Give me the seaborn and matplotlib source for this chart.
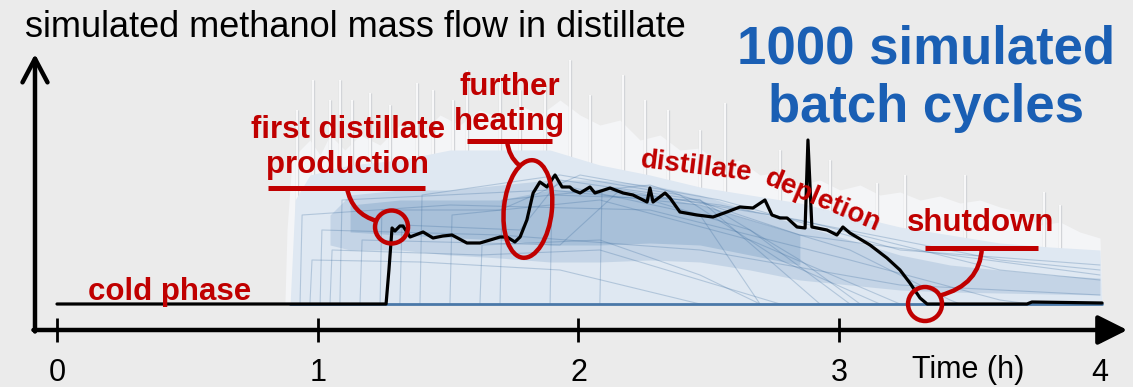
import matplotlib
matplotlib.use("Agg")
import numpy as np
import pandas as pd
import matplotlib.pyplot as plt
import seaborn as sns
from matplotlib.patches import Ellipse, PathPatch
from matplotlib.path import Path
from matplotlib import transforms

# ---------------- data ----------------
# representative batch cycle (black line): time in h, methanol mass flow (a.u.)
ref_time = [0, 1.262, 1.273, 1.285, 1.296, 1.315, 1.327, 1.354, 1.404, 1.442, 1.480, 1.515,
            1.572, 1.622, 1.661, 1.699, 1.726, 1.756, 1.776, 1.802, 1.826, 1.852, 1.879,
            1.910, 1.937, 1.967, 1.979, 2.006, 2.044, 2.063, 2.121, 2.171, 2.209, 2.263,
            2.274, 2.286, 2.332, 2.351, 2.389, 2.454, 2.516, 2.569, 2.619, 2.669, 2.715,
            2.742, 2.773, 2.800, 2.838, 2.869, 2.880, 2.895, 2.953, 2.991, 3.014, 3.041,
            3.118, 3.183, 3.233, 3.271, 3.310, 3.337, 3.720, 3.739, 4.008]
ref_flow = [0, 0, 34, 76, 73, 78, 78, 67, 72, 66, 68, 69,
            61, 61, 64, 67, 67, 62, 67, 84, 111, 122, 117,
            129, 117, 117, 114, 111, 117, 111, 116, 111, 109, 102,
            116, 102, 111, 106, 92, 89, 87, 92, 97, 96, 104,
            89, 86, 86, 77, 76, 164, 77, 74, 69, 77, 71,
            59, 46, 34, 21, 6, 0, 0, 2, 1]

# envelopes of the 1000 simulated cycles
ghost_time = [0.874, 0.882, 0.901, 0.932, 0.970, 1.009, 1.047, 1.104, 1.162, 1.239, 1.315,
              1.392, 1.469, 1.545, 1.622, 1.699, 1.776, 1.852, 1.929, 2.006, 2.082, 2.159,
              2.236, 2.313, 2.389, 2.466, 2.543, 2.619, 2.696, 2.773, 2.849, 2.926, 3.003,
              3.080, 3.156, 3.233, 3.310, 3.386, 3.463, 3.540, 3.616, 3.693, 3.770, 3.847,
              3.923, 4.000, 4.008]
ghost_top = [0, 74, 144, 154, 164, 149, 169, 154, 169, 159, 179,
             169, 189, 179, 194, 186, 199, 189, 204, 189, 179, 184,
             164, 169, 154, 156, 139, 144, 129, 132, 119, 124, 114,
             119, 109, 112, 104, 108, 101, 104, 97, 92, 79, 82,
             72, 66, 0]

spike_time = [0.920, 0.982, 1.047, 1.085, 1.131, 1.200, 1.277, 1.381, 1.442, 1.519, 1.572,
              1.699, 1.776, 1.871, 1.967, 2.044, 2.171, 2.255, 2.343, 2.466, 2.562, 2.773,
              2.964, 3.145, 3.252, 3.482, 3.785, 3.847]
spike_top = [194, 224, 204, 224, 204, 211, 199, 221, 214, 204, 234,
             227, 214, 219, 244, 209, 229, 204, 194, 174, 201, 154,
             144, 121, 129, 129, 112, 99]

band_time = [0.894, 0.913, 0.970, 1.124, 1.315, 1.507, 1.699, 1.891, 2.082, 2.274, 2.466,
             2.658, 2.849, 3.041, 3.233, 3.425, 3.616, 3.808, 4.000, 4.008]
band_top = [0, 104, 129, 139, 144, 154, 154, 154, 139, 129, 117,
            109, 101, 89, 77, 69, 61, 57, 54, 0]

core_time = [1.047, 1.124, 1.315, 1.507, 1.699, 1.891, 2.082, 2.274, 2.466, 2.658, 2.849,
             3.041, 3.233, 3.425, 3.616, 3.808, 4.000]
core_upper = [89, 109, 114, 114, 119, 124, 124, 119, 109, 94, 79, 64, 49, 39, 34, 29, 26]
core_lower = [59, 54, 54, 49, 46, 42, 42, 44, 42, 34, 24, 19, 14, 12, 11, 10, 9]

dense_time = [1.124, 1.315, 1.699, 1.891, 2.082, 2.274, 2.466, 2.658, 2.849]
dense_upper = [99, 104, 104, 114, 114, 109, 99, 84, 69]
dense_lower = [72, 69, 64, 59, 59, 61, 59, 49, 39]

floor_time = [0.894, 4.008]
floor_flow = [0, 0]

# a few individual simulated cycles
trace_times = [
    [0.932, 0.940, 1.507, 2.274, 3.041, 3.616, 3.731],
    [1.009, 1.016, 1.699, 2.466, 3.233, 4.000],
    [1.085, 1.093, 1.891, 2.466, 3.041, 3.425, 3.463],
    [1.162, 1.170, 1.929, 2.159, 2.849, 3.616, 4.000],
    [1.315, 1.323, 1.776, 1.929, 2.466, 2.926],
    [1.507, 1.515, 2.082, 2.658, 3.233],
    [1.699, 1.707, 2.274, 2.849, 4.000],
    [1.891, 1.898, 2.466, 2.849, 3.080],
    [1.047, 1.055, 1.622, 2.082, 2.773],
    [0.970, 0.978, 1.392, 1.929, 2.466],
    [1.239, 1.246, 1.699, 2.006, 2.543, 3.233, 4.000],
    [2.082, 2.090, 2.543, 3.616, 4.000],
    [1.622, 1.630, 2.082, 2.466, 2.696],
    [1.392, 1.400, 1.929, 2.389, 2.773, 3.156],
    [2.274, 2.658, 3.041],
    [1.929, 2.466, 2.696],
]
trace_flows = [
    [0, 89, 99, 94, 44, 4, 0],
    [0, 74, 69, 54, 19, 9],
    [0, 104, 114, 99, 54, 4, 0],
    [0, 64, 59, 114, 84, 34, 24],
    [0, 79, 74, 124, 104, 0],
    [0, 89, 104, 64, 0],
    [0, 104, 119, 69, 29],
    [0, 109, 104, 44, 0],
    [0, 54, 49, 54, 0],
    [0, 44, 42, 34, 0],
    [0, 94, 94, 129, 104, 54, 39],
    [0, 114, 99, 44, 34],
    [0, 59, 64, 29, 0],
    [0, 109, 129, 109, 44, 0],
    [104, 74, 0],
    [119, 89, 0],
]

tick_values = [0, 1, 2, 3, 4]
tick_labels = ["0", "1", "2", "3", "4"]

# ---------------- style ----------------
BG = "#ebebeb"
RED = "#c00000"
BLUE_TXT = "#1a5fb4"
sns.set_theme(style="white", rc={"figure.facecolor": BG, "axes.facecolor": BG})
plt.rcParams["font.family"] = ["Liberation Sans", "DejaVu Sans"]

fig = plt.figure(figsize=(11.33, 3.87), dpi=100)
ax = fig.add_axes([0, 0, 1, 1])
ax.set_xlim(-0.2186, 4.1266)
ax.set_ylim(-83, 304)
ax.axis("off")

# ensemble cloud
ax.fill_between(ghost_time, 0, ghost_top, color="#f4f5f7", lw=0, zorder=1)
ax.vlines(spike_time, 0, spike_top, color="#d2d4d8", lw=2.4, zorder=1.1)
ax.vlines(spike_time, 0, spike_top, color="white", lw=1.2, zorder=1.2)
ax.fill_between(band_time, 0, band_top, color="#dfe8f2", lw=0, zorder=1.5)
ax.fill_between(core_time, core_lower, core_upper, color="#b3c8de", alpha=0.6, lw=0, zorder=1.6)
ax.fill_between(dense_time, dense_lower, dense_upper, color="#86a8ca", alpha=0.45, lw=0, zorder=1.7)

rows = []
for i, (tt, ff) in enumerate(zip(trace_times, trace_flows)):
    for t, f in zip(tt, ff):
        rows.append({"time": t, "flow": f, "cycle": i})
traces = pd.DataFrame(rows)
sns.lineplot(data=traces, x="time", y="flow", units="cycle", estimator=None, sort=False,
             color="#3d6d9e", alpha=0.28, lw=0.8, legend=False, ax=ax, zorder=2)
sns.lineplot(x=floor_time, y=floor_flow, color="#4a78a8", lw=2.0, ax=ax, zorder=2.2)

# representative cycle
sns.lineplot(x=ref_time, y=ref_flow, color="black", lw=2.3, sort=False, estimator=None,
             ax=ax, zorder=3)

# axes with arrows
x_axis_t = -0.0844
axis_v = -26
ax.annotate("", xy=(4.105, axis_v), xytext=(x_axis_t - 0.006, axis_v),
            arrowprops=dict(arrowstyle="-|>,head_length=0.9,head_width=0.45", lw=3.2,
                            color="black", shrinkA=0, shrinkB=0, mutation_scale=20),
            zorder=4)
ax.annotate("", xy=(x_axis_t, 250), xytext=(x_axis_t, axis_v - 1.5),
            arrowprops=dict(arrowstyle="->,head_length=0.85,head_width=0.45", lw=3.2,
                            color="black", shrinkA=0, shrinkB=0, mutation_scale=20),
            zorder=4)
ax.vlines(tick_values, -38, -14, color="black", lw=2.0, zorder=4)
for tv, tl in zip(tick_values, tick_labels):
    ax.text(tv, -77, tl, ha="center", va="baseline", fontsize=22, color="black")
ax.text(3.279, -74, "Time (h)", ha="left", va="baseline", fontsize=22, color="black")

# titles
ax.text(-0.123, 267, "simulated methanol mass flow in distillate", ha="left", va="baseline",
        fontsize=26, color="black")
ax.text(3.333, 240, "1000 simulated", ha="center", va="baseline", fontsize=38,
        fontweight="bold", color=BLUE_TXT)
ax.text(3.333, 182, "batch cycles", ha="center", va="baseline", fontsize=38,
        fontweight="bold", color=BLUE_TXT)

# annotations
lab = dict(color=RED, fontweight="bold", fontsize=22.5, va="baseline", ha="center", zorder=5)
ax.text(0.433, 4, "cold phase", **lab)
ax.text(1.116, 166, "first distillate", **lab)
ax.text(1.114, 131, "production", **lab)
ax.text(1.737, 209, "further", **lab)
ax.text(1.737, 174, "heating", **lab)
ax.text(3.543, 73, "shutdown", **lab)
ax.text(2.236, 137, "distillate", color=RED, fontweight="bold", fontsize=20, ha="left",
        va="baseline", rotation=-7, rotation_mode="anchor", zorder=5)
ax.text(2.707, 121, "depletion", color=RED, fontweight="bold", fontsize=20, ha="left",
        va="baseline", rotation=-23, rotation_mode="anchor", zorder=5)

# underlines
ax.hlines([116, 163, 56], [0.809, 1.572, 3.329], [1.411, 1.898, 3.762], color=RED, lw=3.6, zorder=5)

# connectors (quadratic curves)
def connector(p0, p1, p2):
    path = Path([p0, p1, p2], [Path.MOVETO, Path.CURVE3, Path.CURVE3])
    ax.add_patch(PathPatch(path, fc="none", ec=RED, lw=3.2, zorder=5))

connector((1.112, 116), (1.131, 90), (1.227, 83))
connector((1.726, 163), (1.733, 147), (1.772, 139))
connector((3.547, 56), (3.540, 19), (3.386, 8.5))

# circles / ellipse sized in pixels, centred on data
def ring(t, v, w, h, angle=0):
    tr = transforms.ScaledTranslation(t, v, ax.transData)
    ax.add_patch(Ellipse((0, 0), w, h, angle=angle, transform=tr, fill=False,
                         ec=RED, lw=3.2, zorder=5))

ring(1.283, 77, 33, 33)
ring(1.806, 95, 48, 98, angle=-6)
ring(3.329, 0, 34, 34)

fig.savefig("out.png", dpi=100, facecolor=BG)
